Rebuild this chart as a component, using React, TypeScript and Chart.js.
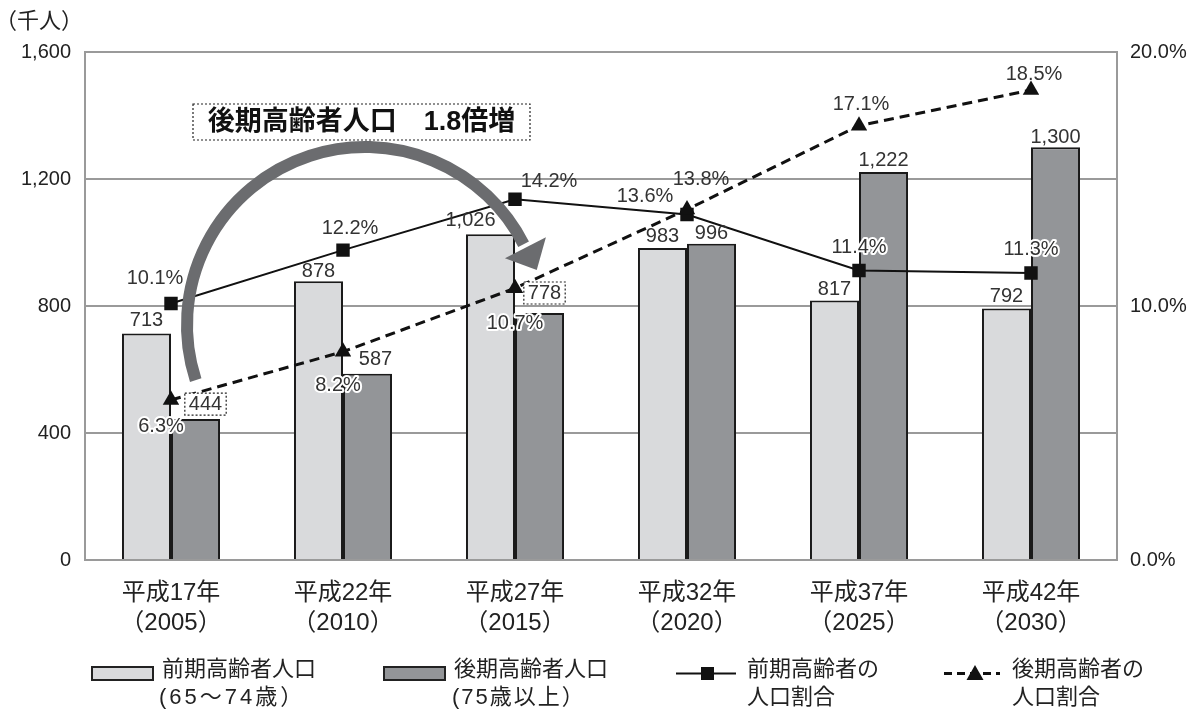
import React, { useEffect, useRef } from 'react';
import { Chart, registerables } from 'chart.js';

Chart.register(...registerables);

// ---- data ----
const categories: string[][] = [
  ['平成17年', '（2005）'],
  ['平成22年', '（2010）'],
  ['平成27年', '（2015）'],
  ['平成32年', '（2020）'],
  ['平成37年', '（2025）'],
  ['平成42年', '（2030）'],
];
const earlyElderly = [713, 878, 1026, 983, 817, 792];
const lateElderly = [444, 587, 778, 996, 1222, 1300];
const earlyRatio = [10.1, 12.2, 14.2, 13.6, 11.4, 11.3];
const lateRatio = [6.3, 8.2, 10.7, 13.8, 17.1, 18.5];
const leftTicks = [0, 400, 800, 1200, 1600];
const rightTicks = [0, 10, 20];

const legendLabels = [
  ['前期高齢者人口', '(65～74歳）'],
  ['後期高齢者人口', '(75歳以上）'],
  ['前期高齢者の', '人口割合'],
  ['後期高齢者の', '人口割合'],
];
const unitLabel = '（千人）';
const calloutText = '後期高齢者人口　1.8倍増';

// ---- label placement (layout only) ----
const earlyBarLabelOff = [[0, -13], [0, -10], [-20, -14], [0, -11], [0, -11], [0, -12]];
const lateBarLabelOff = [[10, -15], [8, -14], [5, -20], [0, -10], [0, -12], [0, -10]];
const lateBarBoxed = [true, false, true, false, false, false];
const earlyRatioOff = [[-16, -25], [7, -22], [34, -18], [-42, -18], [0, -23], [0, -23]];
const earlyRatioHalo = [false, false, false, false, true, true];
const lateRatioOff = [[-10, 27], [-5, 34], [0, 35], [14, -30], [2, -21], [3, -16]];
const lateRatioHalo = [true, true, true, false, false, false];

// ---- styles ----
const LIGHT = '#d9dadc';
const DARK = '#939598';
const GRID = '#9a9a9a';
const INK = '#222222';
const ARROW = '#6b6c6f';
const FONT = "'Liberation Sans', 'Noto Sans CJK JP', sans-serif";

function fmtNum(v: number) {
  return v.toLocaleString('en-US');
}

const decorPlugin = {
  id: 'decor',
  afterDatasetsDraw(chart: any) {
    const ctx: CanvasRenderingContext2D = chart.ctx;
    const xs = chart.scales.x;
    const ys = chart.scales.y;

    // curved arrow
    ctx.save();
    const cx = xs.getPixelForValue(1) + 22;
    const cy = ys.getPixelForValue(740);
    const r = 178;
    const a0 = (162 * Math.PI) / 180;
    const a1 = (333 * Math.PI) / 180;
    ctx.strokeStyle = ARROW;
    ctx.fillStyle = ARROW;
    ctx.lineWidth = 12;
    ctx.beginPath();
    ctx.arc(cx, cy, r, a0, a1, false);
    ctx.stroke();
    const ex = cx + r * Math.cos(a1);
    const ey = cy + r * Math.sin(a1);
    const tx = -Math.sin(a1), ty = Math.cos(a1);
    const rx = Math.cos(a1), ry = Math.sin(a1);
    const bx = ex + tx * 4, by = ey + ty * 4;
    ctx.beginPath();
    ctx.moveTo(bx + rx * 23, by + ry * 23);
    ctx.lineTo(ex + tx * 29, ey + ty * 29);
    ctx.lineTo(bx - rx * 23, by - ry * 23);
    ctx.closePath();
    ctx.fill();
    ctx.restore();

    // data labels
    ctx.save();
    ctx.font = `20px ${FONT}`;
    ctx.textAlign = 'center';
    ctx.textBaseline = 'middle';
    const drawLabel = (text: string, x: number, y: number, halo: boolean, boxed: boolean) => {
      if (boxed) {
        const w = ctx.measureText(text).width + 8;
        const h = 22;
        ctx.save();
        ctx.fillStyle = '#ffffff';
        ctx.fillRect(x - w / 2, y - h / 2, w, h);
        ctx.setLineDash([2, 2]);
        ctx.lineWidth = 1.2;
        ctx.strokeStyle = INK;
        ctx.strokeRect(x - w / 2, y - h / 2, w, h);
        ctx.restore();
      }
      if (halo) {
        ctx.save();
        ctx.lineWidth = 4;
        ctx.lineJoin = 'round';
        ctx.strokeStyle = '#ffffff';
        ctx.strokeText(text, x, y);
        ctx.restore();
      }
      ctx.fillStyle = '#333333';
      ctx.fillText(text, x, y);
    };
    const m0 = chart.getDatasetMeta(0);
    const m1 = chart.getDatasetMeta(1);
    const m2 = chart.getDatasetMeta(2);
    const m3 = chart.getDatasetMeta(3);
    m0.data.forEach((el: any, i: number) => {
      drawLabel(fmtNum(earlyElderly[i]), el.x + earlyBarLabelOff[i][0], el.y + earlyBarLabelOff[i][1], false, false);
    });
    m1.data.forEach((el: any, i: number) => {
      drawLabel(fmtNum(lateElderly[i]), el.x + lateBarLabelOff[i][0], el.y + lateBarLabelOff[i][1], false, lateBarBoxed[i]);
    });
    m2.data.forEach((el: any, i: number) => {
      drawLabel(earlyRatio[i].toFixed(1) + '%', el.x + earlyRatioOff[i][0], el.y + earlyRatioOff[i][1], earlyRatioHalo[i], false);
    });
    m3.data.forEach((el: any, i: number) => {
      drawLabel(lateRatio[i].toFixed(1) + '%', el.x + lateRatioOff[i][0], el.y + lateRatioOff[i][1], lateRatioHalo[i], false);
    });
    ctx.restore();
  },
  afterDraw(chart: any) {
    const ctx: CanvasRenderingContext2D = chart.ctx;
    ctx.save();
    // unit label
    ctx.fillStyle = INK;
    ctx.font = `22px ${FONT}`;
    ctx.textAlign = 'left';
    ctx.textBaseline = 'middle';
    ctx.fillText(unitLabel, -5, 22);

    // callout box
    ctx.save();
    ctx.fillStyle = '#ffffff';
    ctx.fillRect(193, 104, 337, 36);
    ctx.setLineDash([2, 2]);
    ctx.lineWidth = 1.2;
    ctx.strokeStyle = INK;
    ctx.strokeRect(193, 104, 337, 36);
    ctx.restore();
    ctx.font = `bold 27px ${FONT}`;
    ctx.fillStyle = '#111';
    ctx.textAlign = 'center';
    ctx.fillText(calloutText, 361.5, 123);

    // legend
    const y1 = 670, y2 = 698;
    ctx.font = `22px ${FONT}`;
    ctx.textAlign = 'left';
    // item 1
    ctx.fillStyle = LIGHT;
    ctx.fillRect(92, 667, 61, 13);
    ctx.strokeStyle = '#222';
    ctx.lineWidth = 2;
    ctx.strokeRect(92, 667, 61, 13);
    // item 2
    ctx.fillStyle = DARK;
    ctx.fillRect(384, 667, 61, 13);
    ctx.strokeRect(384, 667, 61, 13);
    // item 3
    ctx.strokeStyle = '#111';
    ctx.beginPath();
    ctx.moveTo(676, 673.5);
    ctx.lineTo(736, 673.5);
    ctx.stroke();
    ctx.fillStyle = '#111';
    ctx.fillRect(701, 667, 13, 13);
    // item 4
    ctx.save();
    ctx.lineWidth = 3;
    ctx.setLineDash([8, 5]);
    ctx.beginPath();
    ctx.moveTo(944, 673.5);
    ctx.lineTo(1000, 673.5);
    ctx.stroke();
    ctx.restore();
    ctx.beginPath();
    ctx.moveTo(975, 665);
    ctx.lineTo(983.5, 680);
    ctx.lineTo(966.5, 680);
    ctx.closePath();
    ctx.fill();

    ctx.fillStyle = INK;
    const xs = [162, 454, 747, 1012];
    const xs2 = [159, 452, 747, 1012];
    const spacing2 = ['3px', '2px', '0px', '0px'];
    legendLabels.forEach((l, i) => {
      (ctx as any).letterSpacing = '0px';
      ctx.fillText(l[0], xs[i], y1);
      (ctx as any).letterSpacing = spacing2[i];
      ctx.fillText(l[1], xs2[i], y2);
    });
    (ctx as any).letterSpacing = '0px';
    ctx.restore();
  },
};

export default function App() {
  const ref = useRef<HTMLCanvasElement | null>(null);
  useEffect(() => {
    if (!ref.current) return;
    const chart = new Chart(ref.current, {
      type: 'bar',
      data: {
        labels: categories as any,
        datasets: [
          {
            type: 'bar',
            label: '前期高齢者人口',
            data: earlyElderly,
            backgroundColor: LIGHT,
            borderColor: '#1a1a1a',
            borderWidth: 2,
            yAxisID: 'y',
            order: 2,
            barPercentage: 1,
            categoryPercentage: 0.57,
          },
          {
            type: 'bar',
            label: '後期高齢者人口',
            data: lateElderly,
            backgroundColor: DARK,
            borderColor: '#1a1a1a',
            borderWidth: 2,
            yAxisID: 'y',
            order: 2,
            barPercentage: 1,
            categoryPercentage: 0.57,
          },
          {
            type: 'line',
            label: '前期高齢者の人口割合',
            data: earlyRatio,
            borderColor: '#111',
            borderWidth: 2,
            pointStyle: 'rect',
            pointRadius: 9.5,
            pointBackgroundColor: '#111',
            pointBorderWidth: 0,
            yAxisID: 'y2',
            order: 1,
          },
          {
            type: 'line',
            label: '後期高齢者の人口割合',
            data: lateRatio,
            borderColor: '#111',
            borderWidth: 3,
            borderDash: [10, 6],
            pointStyle: 'triangle',
            pointRadius: 9.5,
            pointBackgroundColor: '#111',
            pointBorderWidth: 0,
            yAxisID: 'y2',
            order: 0,
          },
        ] as any,
      },
      options: {
        responsive: false,
        animation: false,
        events: [],
        layout: { padding: { left: 0, right: 0, top: 52, bottom: 0 } },
        plugins: {
          legend: { display: false },
          tooltip: { enabled: false },
          title: { display: false },
        },
        scales: {
          x: {
            grid: { display: false },
            border: { display: false },
            ticks: {
              color: INK,
              font: { family: FONT, size: 24, lineHeight: 1.25 },
              padding: 10,
              autoSkip: false,
              maxRotation: 0,
              minRotation: 0,
            },
            afterFit: (s: any) => { s.height = 154; },
          },
          y: {
            position: 'left',
            min: 0,
            max: 1600,
            afterBuildTicks: (s: any) => { s.ticks = leftTicks.map((v) => ({ value: v })); },
            grid: { color: GRID, lineWidth: 2, drawTicks: false },
            border: { display: true, color: GRID, width: 2 },
            ticks: {
              color: INK,
              font: { family: FONT, size: 20 },
              padding: 14,
              callback: (v: any) => fmtNum(Number(v)),
            },
            afterFit: (s: any) => { s.width = 85; },
          },
          y2: {
            position: 'right',
            min: 0,
            max: 20,
            afterBuildTicks: (s: any) => { s.ticks = rightTicks.map((v) => ({ value: v })); },
            grid: { display: false, drawTicks: false },
            border: { display: true, color: GRID, width: 2 },
            ticks: {
              color: INK,
              font: { family: FONT, size: 20 },
              padding: 13,
              callback: (v: any) => Number(v).toFixed(1) + '%',
            },
            afterFit: (s: any) => { s.width = 81; },
          },
        },
      } as any,
      plugins: [decorPlugin],
    });
    return () => chart.destroy();
  }, []);
  return (
    <div style={{ position: 'absolute', left: 0, top: 0, width: 1198, height: 714, background: '#fff' }}>
      <canvas ref={ref} width={1198} height={714} style={{ display: 'block' }} />
    </div>
  );
}
